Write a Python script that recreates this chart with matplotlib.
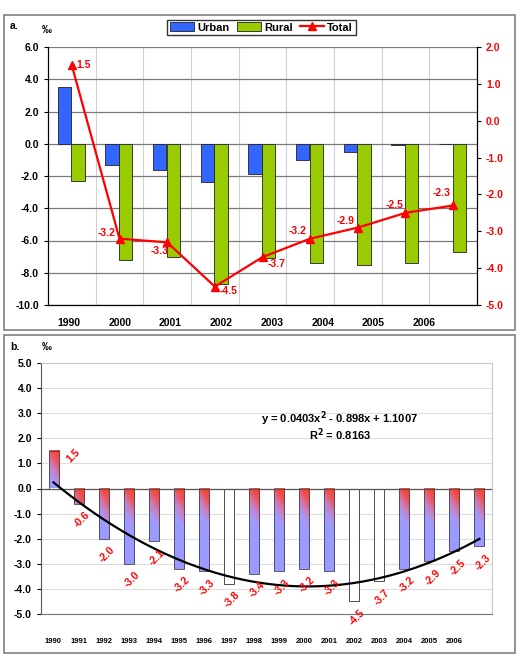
from matplotlib import pyplot as plt
from matplotlib.patches import Rectangle
from matplotlib.colors import LinearSegmentedColormap
import numpy as np

plt.rcParams['font.family'] = ['Liberation Sans', 'DejaVu Sans']
plt.rcParams['font.weight'] = 'bold'

# panel a data
years_a = ['1990', '2000', '2001', '2002', '2003', '2004', '2005', '2006']
urban = [3.5, -1.3, -1.6, -2.4, -1.9, -1.0, -0.5, -0.1, 0.0]
rural = [-2.3, -7.2, -7.0, -8.7, -7.1, -7.4, -7.5, -7.4, -6.7]
total_a = [1.5, -3.2, -3.3, -4.5, -3.7, -3.2, -2.9, -2.5, -2.3]

# panel b data
years_b = ['1990', '1991', '1992', '1993', '1994', '1995', '1996', '1997', '1998',
           '1999', '2000', '2001', '2002', '2003', '2004', '2005', '2006']
total_b = [1.5, -0.6, -2.0, -3.0, -2.1, -3.2, -3.3, -3.8, -3.4,
           -3.3, -3.2, -3.3, -4.5, -3.7, -3.2, -2.9, -2.5, -2.3]
white_idx = [7, 12, 13]   # 1997, 2002, 2003 drawn as white bars
trend = [0.0403, -0.898, 1.1007]

red = '#FF0000'
fig = plt.figure(figsize=(5.24, 6.57), dpi=100)

# panel frames
fig.patches.append(Rectangle((4/524, 1-330/657), 511/524, 315/657, transform=fig.transFigure,
                             fill=False, edgecolor='#808080', lw=1.2))
fig.patches.append(Rectangle((4/524, 1-653/657), 511/524, 318/657, transform=fig.transFigure,
                             fill=False, edgecolor='#808080', lw=1.2))

# ---------------- panel a ----------------
ax1 = fig.add_axes([48/524, 1-305/657, 429/524, 258/657])
n = len(urban)
x = np.arange(n)
bu = ax1.bar(x - 0.155, urban, 0.28, color='#3366FF', edgecolor='#222222', lw=0.6, label='Urban', zorder=3)
br = ax1.bar(x + 0.13, rural, 0.28, color='#99CC00', edgecolor='#222222', lw=0.6, label='Rural', zorder=3)
ax1.set_xlim(-0.5, n - 0.5)
ax1.set_ylim(-10, 6)
ax1.set_yticks(np.arange(-10, 7, 2))
ax1.set_yticklabels(['%.1f' % v for v in np.arange(-10, 7, 2)], fontsize=7.5, fontweight='bold')
ax1.yaxis.grid(True, color='#7a7a7a', lw=0.9, zorder=0)
ax1.set_xticks(np.arange(n) + 0.5, minor=True)
ax1.xaxis.grid(True, which='minor', color='#d0d0d0', lw=0.8, zorder=0)
ax1.set_xticks(np.arange(len(years_a)) * 1.065 - 0.06)
ax1.set_xticklabels(years_a, fontsize=7.5, fontweight='bold')
ax1.tick_params(axis='x', which='both', length=0, pad=9)
ax1.tick_params(axis='y', length=3, width=0.8)
ax1.spines['top'].set_visible(False)

ax1r = ax1.twinx()
ln, = ax1r.plot(x, total_a, color=red, lw=1.6, marker='^', ms=6, label='Total', zorder=5)
ax1r.set_ylim(-5, 2)
ax1r.set_yticks(np.arange(-5, 3, 1))
ax1r.set_yticklabels(['%.1f' % v for v in np.arange(-5, 3, 1)], fontsize=7.5, fontweight='bold', color=red)
ax1r.tick_params(axis='y', length=3, width=0.8)
ax1r.spines['top'].set_visible(False)
offs = [(5, 0, 'left'), (-4, 6, 'right'), (1, -9, 'right'), (5, -4, 'left'), (5, -7, 'left'),
        (-4, 8, 'right'), (-3, 7, 'right'), (-2, 8, 'right'), (-3, 12, 'right')]
for xi, v, (dx, dy, ha) in zip(x, total_a, offs):
    ax1r.annotate('%.1f' % v, (xi, v), xytext=(dx, dy), textcoords='offset pixels',
                  ha=ha, va='center', color=red, fontsize=7.5, fontweight='bold')

fig.legend([bu, br, ln], ['Urban', 'Rural', 'Total'], loc='center', ncol=3,
           bbox_to_anchor=(0.499, 1-27.5/657), frameon=True, fancybox=False,
           edgecolor='black', handlelength=2.2, handleheight=0.8, columnspacing=0.6,
           handletextpad=0.3, borderpad=0.25, prop={'weight': 'bold', 'size': 8})
fig.text(10/524, 1-26/657, 'a.', fontsize=7.5, fontweight='bold', va='center')
fig.text(42/524, 1-30/657, '‰', fontsize=7, va='center')

# ---------------- panel b ----------------
ax2 = fig.add_axes([41/524, 1-614/657, 451/524, 251/657])
m = len(total_b)
cmap = LinearSegmentedColormap.from_list('rb', ['#FF4020', '#F05050', '#C880C0', '#A09CFF', '#9A9AFF'])
w = 0.4
for i, v in enumerate(total_b):
    lo, hi = min(0, v), max(0, v)
    if i in white_idx:
        ax2.bar(i, v, w, color='white', edgecolor='#333333', lw=0.6, zorder=3)
    else:
        hpx = abs(v) * 25.1
        yy, xx = np.mgrid[0:max(int(hpx), 2), 0:10]
        t = np.clip(yy / 55.0 + (9 - xx) / 9.0 * 0.3, 0, 1)
        ax2.imshow(t, cmap=cmap, vmin=0, vmax=1, aspect='auto',
                   extent=(i - w/2, i + w/2, lo, hi), origin='upper', zorder=3)
        ax2.bar(i, v, w, color='none', edgecolor='#404060', lw=0.6, zorder=4)
    if v > 0:
        d = (20, -5)
    else:
        d = (3, -16)
    ax2.annotate('%.1f' % v, (i, v), xytext=d, textcoords='offset pixels', ha='center',
                 va='center', rotation=45, color=red, fontsize=7.5, fontweight='bold',
                 annotation_clip=False, zorder=6)
xs = np.linspace(1, m, 200)
ax2.plot(xs - 1, np.polyval(trend, xs), color='black', lw=1.6, zorder=5)
ax2.axhline(0, color='#555555', lw=0.9, zorder=4)
ax2.set_xlim(-0.5, m - 0.5)
ax2.set_ylim(-5, 5)
ax2.set_yticks(np.arange(-5, 6, 1))
ax2.set_yticklabels(['%.1f' % v for v in np.arange(-5, 6, 1)], fontsize=7.5, fontweight='bold')
ax2.yaxis.grid(True, color='#dddddd', lw=0.8, zorder=0)
ax2.set_xticks(np.arange(len(years_b)))
ax2.set_xticklabels(years_b, fontsize=5.5, fontweight='bold')
ax2.tick_params(axis='x', length=0, pad=17)
ax2.tick_params(axis='y', length=3, width=0.8)
for s in ['top', 'right']:
    ax2.spines[s].set_color('#c8c8c8')
ax2.spines['left'].set_color('#555555')
ax2.spines['bottom'].set_color('#777777')
ax2.text(0.663, 0.777, 'y = 0.0403x$^2$ - 0.898x + 1.1007', transform=ax2.transAxes,
         ha='center', va='center', fontsize=8, fontweight='bold')
ax2.text(0.663, 0.713, 'R$^2$ = 0.8163', transform=ax2.transAxes,
         ha='center', va='center', fontsize=8, fontweight='bold')
fig.text(10/524, 1-347/657, 'b.', fontsize=7.5, fontweight='bold', va='center')
fig.text(42/524, 1-347/657, '‰', fontsize=7, va='center')

plt.savefig('out.png', dpi=100)
